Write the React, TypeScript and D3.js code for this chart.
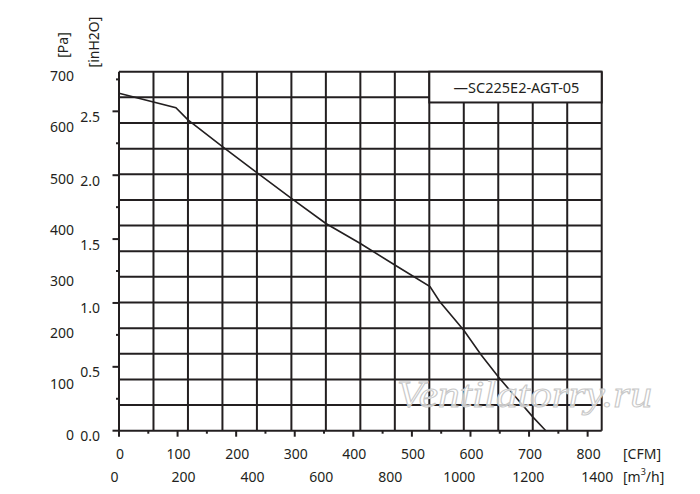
import React from "react";
import * as d3 from "d3";

// flow [m³/h] vs static pressure [Pa]
const flowM3h = [0, 165, 200, 300, 400, 500, 600, 700, 800, 902, 930, 1000, 1050, 1100, 1200, 1238];
const pressurePa = [658, 630, 606, 554, 503, 453, 404, 365, 323, 281, 252, 196, 148, 105, 27, 0];

const seriesName = "SC225E2-AGT-05";
const paTicks = [0, 100, 200, 300, 400, 500, 600, 700];
const inH2OTicks = [0, 0.25, 0.5, 0.75, 1.0, 1.25, 1.5, 1.75, 2.0, 2.25, 2.5, 2.75];
const cfmTicks = [0, 50, 100, 150, 200, 250, 300, 350, 400, 450, 500, 550, 600, 650, 700, 750, 800];
const m3hLabels = [0, 200, 400, 600, 800, 1000, 1200, 1400];

const W = 700;
const H = 494;
const ink = "#231f20";
const font = "'Noto Sans', 'Open Sans', sans-serif";

const App: React.FC = () => {
    const left = 119;
    const right = 601.7;
    const top = 71.7;
    const bottom = 430.7;

    const x = d3.scaleLinear().domain([0, 1400]).range([left, right]);
    const y = d3.scaleLinear().domain([0, 700]).range([bottom, top]);
    const yIn = d3.scaleLinear().domain([0, 700 / 249.089]).range([bottom, top]);
    const xCfm = d3.scaleLinear().domain([0, 1400 / 1.699]).range([left, right]);

    const vLines = d3.range(0, 1401, 100);
    const hLines = d3.range(0, 701, 50);

    const pts = flowM3h.map((f, i) => [f, pressurePa[i]] as [number, number]);
    const line = d3
        .line<[number, number]>()
        .x((d) => x(d[0]))
        .y((d) => y(d[1]));

    // legend box in data units
    const legX = x(900);
    const legY = y(640);

    return (
        <div style={{ position: "absolute", left: 0, top: 0 }}>
            <svg width={W} height={H} style={{ display: "block", background: "#fff" }}>
                {/* grid */}
                <g stroke={ink} strokeWidth={2}>
                    {vLines.map((v) => (
                        <line key={"v" + v} x1={x(v)} x2={x(v)} y1={top} y2={bottom} />
                    ))}
                    {hLines.map((v) => (
                        <line key={"h" + v} x1={left} x2={right} y1={y(v)} y2={y(v)} />
                    ))}
                </g>

                {/* left ticks (inH2O) */}
                <g stroke={ink} strokeWidth={2}>
                    {inH2OTicks.map((t, i) => (
                        <line
                            key={"ti" + t}
                            x1={i % 2 === 0 ? left - 6.5 : left - 3}
                            x2={left}
                            y1={yIn(t)}
                            y2={yIn(t)}
                        />
                    ))}
                    {cfmTicks.map((t, i) => (
                        <line
                            key={"tc" + t}
                            x1={xCfm(t)}
                            x2={xCfm(t)}
                            y1={bottom}
                            y2={i % 2 === 0 ? bottom + 6 : bottom + 3}
                        />
                    ))}
                </g>

                {/* curve */}
                <path d={line(pts) || ""} fill="none" stroke={ink} strokeWidth={1.6} />

                {/* watermark */}
                <text
                    x={397}
                    y={407}
                    fontFamily="'Liberation Serif', serif"
                    fontStyle="italic"
                    fontSize={37}
                    textLength={255}
                    lengthAdjust="spacingAndGlyphs"
                    fill="#ffffff"
                    fillOpacity={0.75}
                    stroke="#c8c8c8"
                    strokeWidth={1}
                >
                    Ventilatorry.ru
                </text>

                {/* legend */}
                <rect
                    x={legX}
                    y={top}
                    width={right - legX}
                    height={legY - top}
                    fill="#fff"
                    stroke={ink}
                    strokeWidth={2}
                />
                <text
                    x={(legX + right) / 2 + 1}
                    y={(top + legY) / 2}
                    dominantBaseline="central"
                    textAnchor="middle"
                    fontFamily={font}
                    fontSize={14.5}
                    fill={ink}
                >
                    {"—" + seriesName}
                </text>

                {/* Pa labels */}
                <g fontFamily={font} fontSize={14} fill={ink}>
                    {paTicks.map((t) => (
                        <text key={"pa" + t} x={74} y={y(t) + 4} textAnchor="end" dominantBaseline="central">
                            {t}
                        </text>
                    ))}
                    {inH2OTicks
                        .filter((_, i) => i % 2 === 0)
                        .map((t) => (
                            <text key={"in" + t} x={100} y={yIn(t) + 5} textAnchor="end" dominantBaseline="central">
                                {t.toFixed(1)}
                            </text>
                        ))}
                    {cfmTicks
                        .filter((_, i) => i % 2 === 0)
                        .map((t) => (
                            <text key={"cfm" + t} x={xCfm(t) + 1} y={453} textAnchor="middle" dominantBaseline="central">
                                {t}
                            </text>
                        ))}
                    {m3hLabels.map((t) => (
                        <text key={"m3" + t} x={x(t) - 4.5} y={476} textAnchor="middle" dominantBaseline="central">
                            {t}
                        </text>
                    ))}
                    <text x={623} y={453} dominantBaseline="central">
                        [CFM]
                    </text>
                    <text x={623} y={476} dominantBaseline="central">
                        [m<tspan dy={-5} fontSize={9}>3</tspan>
                        <tspan dy={5}>/h]</tspan>
                    </text>
                    <text transform="translate(62,45) rotate(-90)" textAnchor="middle" dominantBaseline="central">
                        [Pa]
                    </text>
                    <text transform="translate(93,42) rotate(-90)" textAnchor="middle" dominantBaseline="central">
                        [inH2O]
                    </text>
                </g>
            </svg>
        </div>
    );
};

export default App;
